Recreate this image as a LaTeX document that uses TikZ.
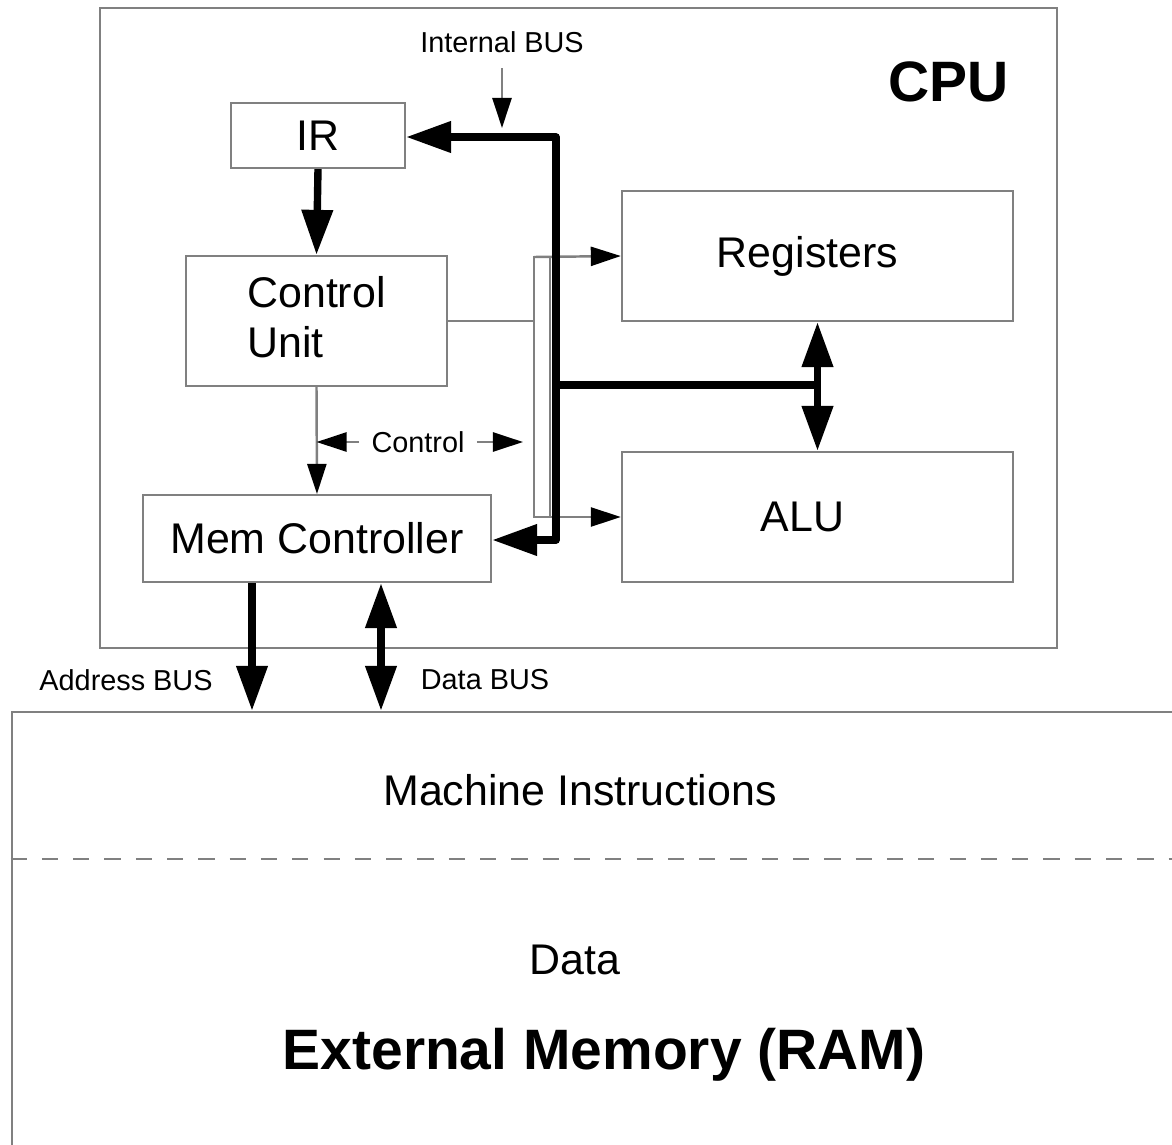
\documentclass[tikz,border=0pt]{standalone}
\usepackage{fontspec}
\setmainfont{Liberation Sans}
\usetikzlibrary{arrows.meta,positioning}

\begin{document}
\begin{tikzpicture}[x=0.01cm,y=-0.01cm,
    box/.style={draw=gray,line width=0.6pt,inner sep=0pt,font=\fontsize{12.2}{14}\selectfont},
    txt/.style={font=\fontsize{12.2}{14}\selectfont},
    small/.style={font=\fontsize{8.2}{10}\selectfont},
    big/.style={font=\bfseries\fontsize{16.2}{19}\selectfont},
    wire/.style={draw=gray,line width=0.7pt,>={Triangle[length=3mm,width=1.9mm,color=black]}},
    bus/.style={line width=2.1pt,line join=round,>={Triangle[length=4.5mm,width=3mm]}}]

                \useasboundingbox (0,0) rectangle (1172,1145);

                \node[box,minimum width=9.57cm,minimum height=6.4cm] (cpu) at (578.5,328) {};
                \node[big] (cpulbl) at (949,82) {CPU};

                \node[box,minimum width=1.74cm,minimum height=0.65cm] (ir) at (318,135.5) {IR};
                \node[box,minimum width=2.61cm,minimum height=1.3cm,align=left] (cu) at (316.5,321) {Control\\Unit\\[-0.41cm]\mbox{}};
                \node[box,minimum width=3.48cm,minimum height=0.87cm] (mem) at (317,538.5) {Mem Controller};
                \node[box,minimum width=3.91cm,minimum height=1.3cm] (regs) at (817.5,256) {Registers\hspace{0.2cm}\mbox{}};
                \node[box,minimum width=3.91cm,minimum height=1.3cm] (alu) at (817.5,517) {ALU\hspace{0.3cm}\mbox{}};

                \node[box,minimum width=11.78cm,minimum height=4.48cm] (ram) at (601,936) {};
                \node[txt] (instr) at (580,790) {Machine Instructions};
                \node[txt] (data) at (575,960) {Data};
                \node[big] (ramlbl) at (604,1055) {External Memory (RAM)};

                \node[small] (ibus) at (502,42) {Internal BUS};
                \node[small] (ctl) at (418,442) {Control};
                \node[small] (abuslbl) at (126,680) {Address BUS};
                \node[small] (dbuslbl) at (485,680) {Data BUS};

                \coordinate (ibtail) at (502,68);
                \coordinate (ibhead) at (502,128);
                \coordinate (btop) at (556,137);
                \coordinate (bbot) at (556,540);
                \coordinate (bjoin) at (556,385);
                \coordinate (crtop) at (534,257);
                \coordinate (crbot) at (550,517);
                \coordinate (ctlend) at (523,442);
                \coordinate (addrx) at (252,0);
                \coordinate (datax) at (381,0);

                \draw[gray,line width=0.7pt,dash pattern=on 4.6pt off 4.3pt] (ram.west |- 0,859) -- (1172,859);

                \draw[wire,->] (ibtail) -- (ibhead);
                \draw[wire] (crtop) rectangle (crbot);
                \draw[wire] (cu.east) -- (crtop |- cu.east);
                \draw[wire,->] (crtop) -- (regs.west);
                \draw[wire,->] (crtop |- crbot) -- (alu.west);
                \draw[wire,->] (cu.south) -- (mem.north);
                \draw[wire,->] (ctl.west) -- (cu.south |- ctl.west);
                \draw[wire,->] (ctl.east) -- (ctlend);

                \draw[bus,<->] (ir.east |- btop) -- (btop) -- (bbot) -- (mem.east |- bbot);
                \draw[bus] (bjoin) -- (regs.south |- bjoin);
                \draw[bus,<->] (regs.south) -- (alu.north);
                \draw[bus,->] (ir.south) -- (cu.north);
                \draw[bus,->] (mem.south -| addrx) -- (ram.north -| addrx);
                \draw[bus,<->] (mem.south -| datax) -- (ram.north -| datax);

            \end{tikzpicture}
\end{document}
